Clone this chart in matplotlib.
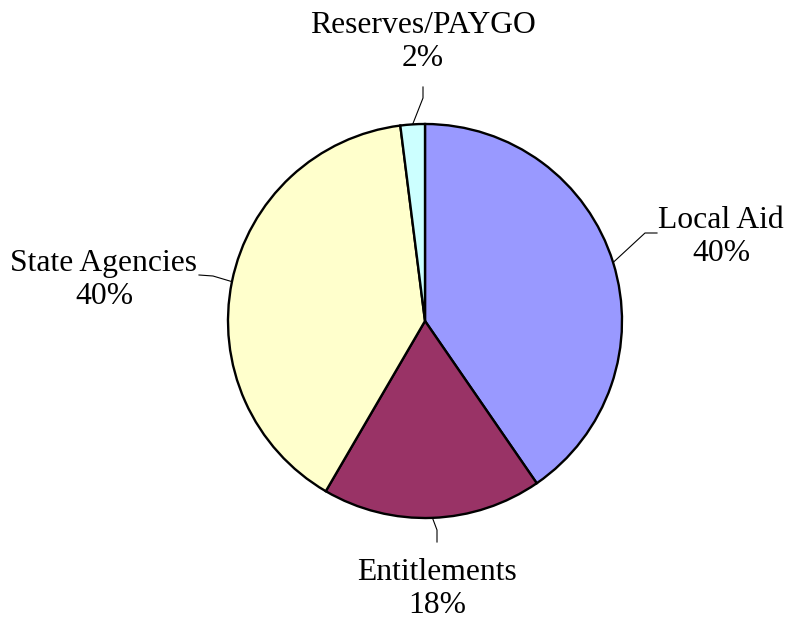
import numpy as np
import matplotlib
matplotlib.use("Agg")
import matplotlib.pyplot as plt

labels = ["Local Aid", "Entitlements", "State Agencies", "Reserves/PAYGO"]
shares = [40.4, 18.0, 39.6, 2.0]
colors = ["#9999FF", "#993366", "#FFFFCC", "#CCFFFF"]

W, H = 785, 620
CX, CY, R = 425, H - 321, 197

fig = plt.figure(figsize=(7.85, 6.2), dpi=100)
ax = fig.add_axes([0, 0, 1, 1])

wedges, _ = ax.pie(shares, colors=colors, startangle=90, counterclock=False,
                   center=(CX, CY), radius=R,
                   wedgeprops=dict(edgecolor="black", linewidth=1.7))
ax.set_xlim(0, W)
ax.set_ylim(0, H)
ax.set_aspect("equal")
ax.axis("off")

# leader line elbow / end offsets and label centres (pixels)
elbows = [(645, 233), (437, 530), (213, 276), (423, 98)]
ends = [(657, 233), (437, 542), (199, 275), (423, 87)]
text_pos = [(721, 237), (437, 589), (104, 280), (423, 42)]

for w, lab, s, el, en, tp in zip(wedges, labels, shares, elbows, ends, text_pos):
    mid = np.deg2rad((w.theta1 + w.theta2) / 2)
    sx, sy = CX + R * np.cos(mid), CY + R * np.sin(mid)
    ax.plot([sx, el[0], en[0]], [sy, H - el[1], H - en[1]],
            color="black", lw=0.8, zorder=3)
    ax.text(tp[0], H - tp[1], f"{lab}\n{round(s)}%", ha="center", va="center",
            family="Liberation Serif", fontsize=22.8, linespacing=1.17)

fig.savefig("out.png", dpi=100, facecolor="white")
